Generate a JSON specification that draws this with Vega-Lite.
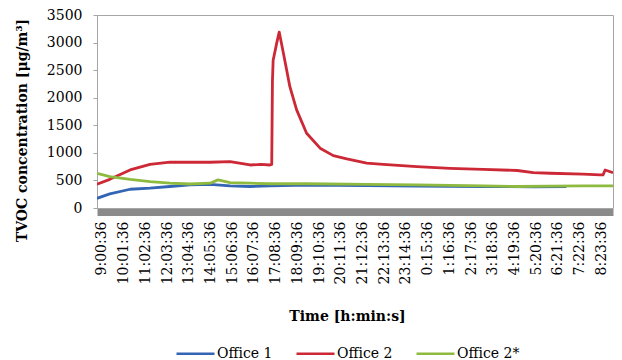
{
  "$schema": "https://vega.github.io/schema/vega-lite/v6.json",
  "width": 516,
  "height": 193,
  "autosize": "none",
  "padding": {"left": 97, "top": 15, "right": 9, "bottom": 152},
  "background": "white",
  "config": {
    "font": "DejaVu Serif",
    "view": {"stroke": "#a6a6a6", "strokeWidth": 1}
  },
  "data": {
    "values": [
      {"s": "Office 1", "m": -14, "v": 175},
      {"s": "Office 1", "m": 22, "v": 255},
      {"s": "Office 1", "m": 79, "v": 340},
      {"s": "Office 1", "m": 135, "v": 360},
      {"s": "Office 1", "m": 191, "v": 390},
      {"s": "Office 1", "m": 247, "v": 420},
      {"s": "Office 1", "m": 304, "v": 430},
      {"s": "Office 1", "m": 360, "v": 400},
      {"s": "Office 1", "m": 416, "v": 390},
      {"s": "Office 1", "m": 472, "v": 400},
      {"s": "Office 1", "m": 576, "v": 415},
      {"s": "Office 1", "m": 745, "v": 405},
      {"s": "Office 1", "m": 885, "v": 395},
      {"s": "Office 1", "m": 1071, "v": 390},
      {"s": "Office 1", "m": 1212, "v": 385},
      {"s": "Office 1", "m": 1305, "v": 390},

      {"s": "Office 2", "m": -14, "v": 430},
      {"s": "Office 2", "m": 22, "v": 520},
      {"s": "Office 2", "m": 79, "v": 690},
      {"s": "Office 2", "m": 135, "v": 790},
      {"s": "Office 2", "m": 191, "v": 830},
      {"s": "Office 2", "m": 247, "v": 830},
      {"s": "Office 2", "m": 304, "v": 830},
      {"s": "Office 2", "m": 360, "v": 840},
      {"s": "Office 2", "m": 416, "v": 780},
      {"s": "Office 2", "m": 447, "v": 790},
      {"s": "Office 2", "m": 472, "v": 780},
      {"s": "Office 2", "m": 477, "v": 790},
      {"s": "Office 2", "m": 479, "v": 2300},
      {"s": "Office 2", "m": 481, "v": 2680},
      {"s": "Office 2", "m": 491, "v": 2990},
      {"s": "Office 2", "m": 498, "v": 3190},
      {"s": "Office 2", "m": 510, "v": 2800},
      {"s": "Office 2", "m": 528, "v": 2200},
      {"s": "Office 2", "m": 547, "v": 1780},
      {"s": "Office 2", "m": 575, "v": 1355},
      {"s": "Office 2", "m": 613, "v": 1085},
      {"s": "Office 2", "m": 650, "v": 950},
      {"s": "Office 2", "m": 688, "v": 890},
      {"s": "Office 2", "m": 744, "v": 815},
      {"s": "Office 2", "m": 790, "v": 790},
      {"s": "Office 2", "m": 885, "v": 750},
      {"s": "Office 2", "m": 978, "v": 720},
      {"s": "Office 2", "m": 1071, "v": 700},
      {"s": "Office 2", "m": 1167, "v": 680},
      {"s": "Office 2", "m": 1212, "v": 640},
      {"s": "Office 2", "m": 1259, "v": 630},
      {"s": "Office 2", "m": 1352, "v": 615},
      {"s": "Office 2", "m": 1400, "v": 600},
      {"s": "Office 2", "m": 1408, "v": 600},
      {"s": "Office 2", "m": 1414, "v": 690},
      {"s": "Office 2", "m": 1436, "v": 640},

      {"s": "Office 2*", "m": -14, "v": 630},
      {"s": "Office 2*", "m": 22, "v": 570},
      {"s": "Office 2*", "m": 79, "v": 520},
      {"s": "Office 2*", "m": 135, "v": 480},
      {"s": "Office 2*", "m": 191, "v": 450},
      {"s": "Office 2*", "m": 247, "v": 435},
      {"s": "Office 2*", "m": 304, "v": 450},
      {"s": "Office 2*", "m": 326, "v": 510},
      {"s": "Office 2*", "m": 360, "v": 460},
      {"s": "Office 2*", "m": 416, "v": 450},
      {"s": "Office 2*", "m": 472, "v": 440},
      {"s": "Office 2*", "m": 576, "v": 440},
      {"s": "Office 2*", "m": 745, "v": 430},
      {"s": "Office 2*", "m": 885, "v": 420},
      {"s": "Office 2*", "m": 1071, "v": 400},
      {"s": "Office 2*", "m": 1167, "v": 390},
      {"s": "Office 2*", "m": 1259, "v": 395},
      {"s": "Office 2*", "m": 1352, "v": 400},
      {"s": "Office 2*", "m": 1436, "v": 400}
    ]
  },
  "mark": {"type": "line", "strokeWidth": 2.8, "clip": true, "strokeJoin": "round"},
  "encoding": {
    "x": {
      "field": "m",
      "type": "quantitative",
      "scale": {"domain": [-14, 1436], "nice": false, "zero": false},
      "axis": {
        "title": "Time [h:min:s]",
        "titleFont": "DejaVu Serif",
        "titleFontWeight": "bold",
        "titleFontSize": 14,
        "titleColor": "#000000",
        "titleX": 250,
        "titleY": 104,
        "titleAlign": "center",
        "titleBaseline": "middle",
        "values": [0, 61, 122, 183, 244, 305, 366, 427, 488, 549, 610, 671, 732, 793, 854, 915, 976, 1037, 1098, 1159, 1220, 1281, 1342, 1403],
        "labelExpr": "((9 + floor(datum.value / 60)) % 24) + ':' + (datum.value % 60 < 10 ? '0' : '') + (datum.value % 60) + ':36'",
        "labelAngle": 270,
        "labelAlign": "right",
        "labelBaseline": "middle",
        "labelFont": "DejaVu Serif",
        "labelFontSize": 14,
        "labelColor": "#000000",
        "labelPadding": 9,
        "labelOverlap": false,
        "labelBound": false,
        "ticks": false,
        "grid": false,
        "domainColor": "#8a8a8a",
        "domainWidth": 7,
        "offset": 4
      }
    },
    "y": {
      "field": "v",
      "type": "quantitative",
      "scale": {"domain": [0, 3500], "nice": false},
      "axis": {
        "title": "TVOC concentration [μg/m³]",
        "titleFont": "DejaVu Serif",
        "titleFontWeight": "bold",
        "titleFontSize": 14,
        "titleColor": "#000000",
        "titleAngle": -90,
        "titleX": -75,
        "titleY": 115,
        "titleAlign": "center",
        "titleBaseline": "middle",
        "values": [0, 500, 1000, 1500, 2000, 2500, 3000, 3500],
        "format": "d",
        "labelFont": "DejaVu Serif",
        "labelFontSize": 14,
        "labelColor": "#000000",
        "labelPadding": 11,
        "tickSize": 4,
        "tickColor": "#a6a6a6",
        "domainColor": "#a6a6a6",
        "grid": false
      }
    },
    "color": {
      "field": "s",
      "type": "nominal",
      "scale": {
        "domain": ["Office 1", "Office 2", "Office 2*"],
        "range": ["#3465b4", "#cc2836", "#8fba40"]
      },
      "legend": {
        "title": null,
        "orient": "none",
        "legendX": 78,
        "legendY": 318,
        "direction": "horizontal",
        "symbolType": "stroke",
        "symbolSize": 1444,
        "symbolStrokeWidth": 2.5,
        "labelFont": "DejaVu Serif",
        "labelFontSize": 14,
        "labelColor": "#000000",
        "labelOffset": 1,
        "columnPadding": 18
      }
    }
  }
}
